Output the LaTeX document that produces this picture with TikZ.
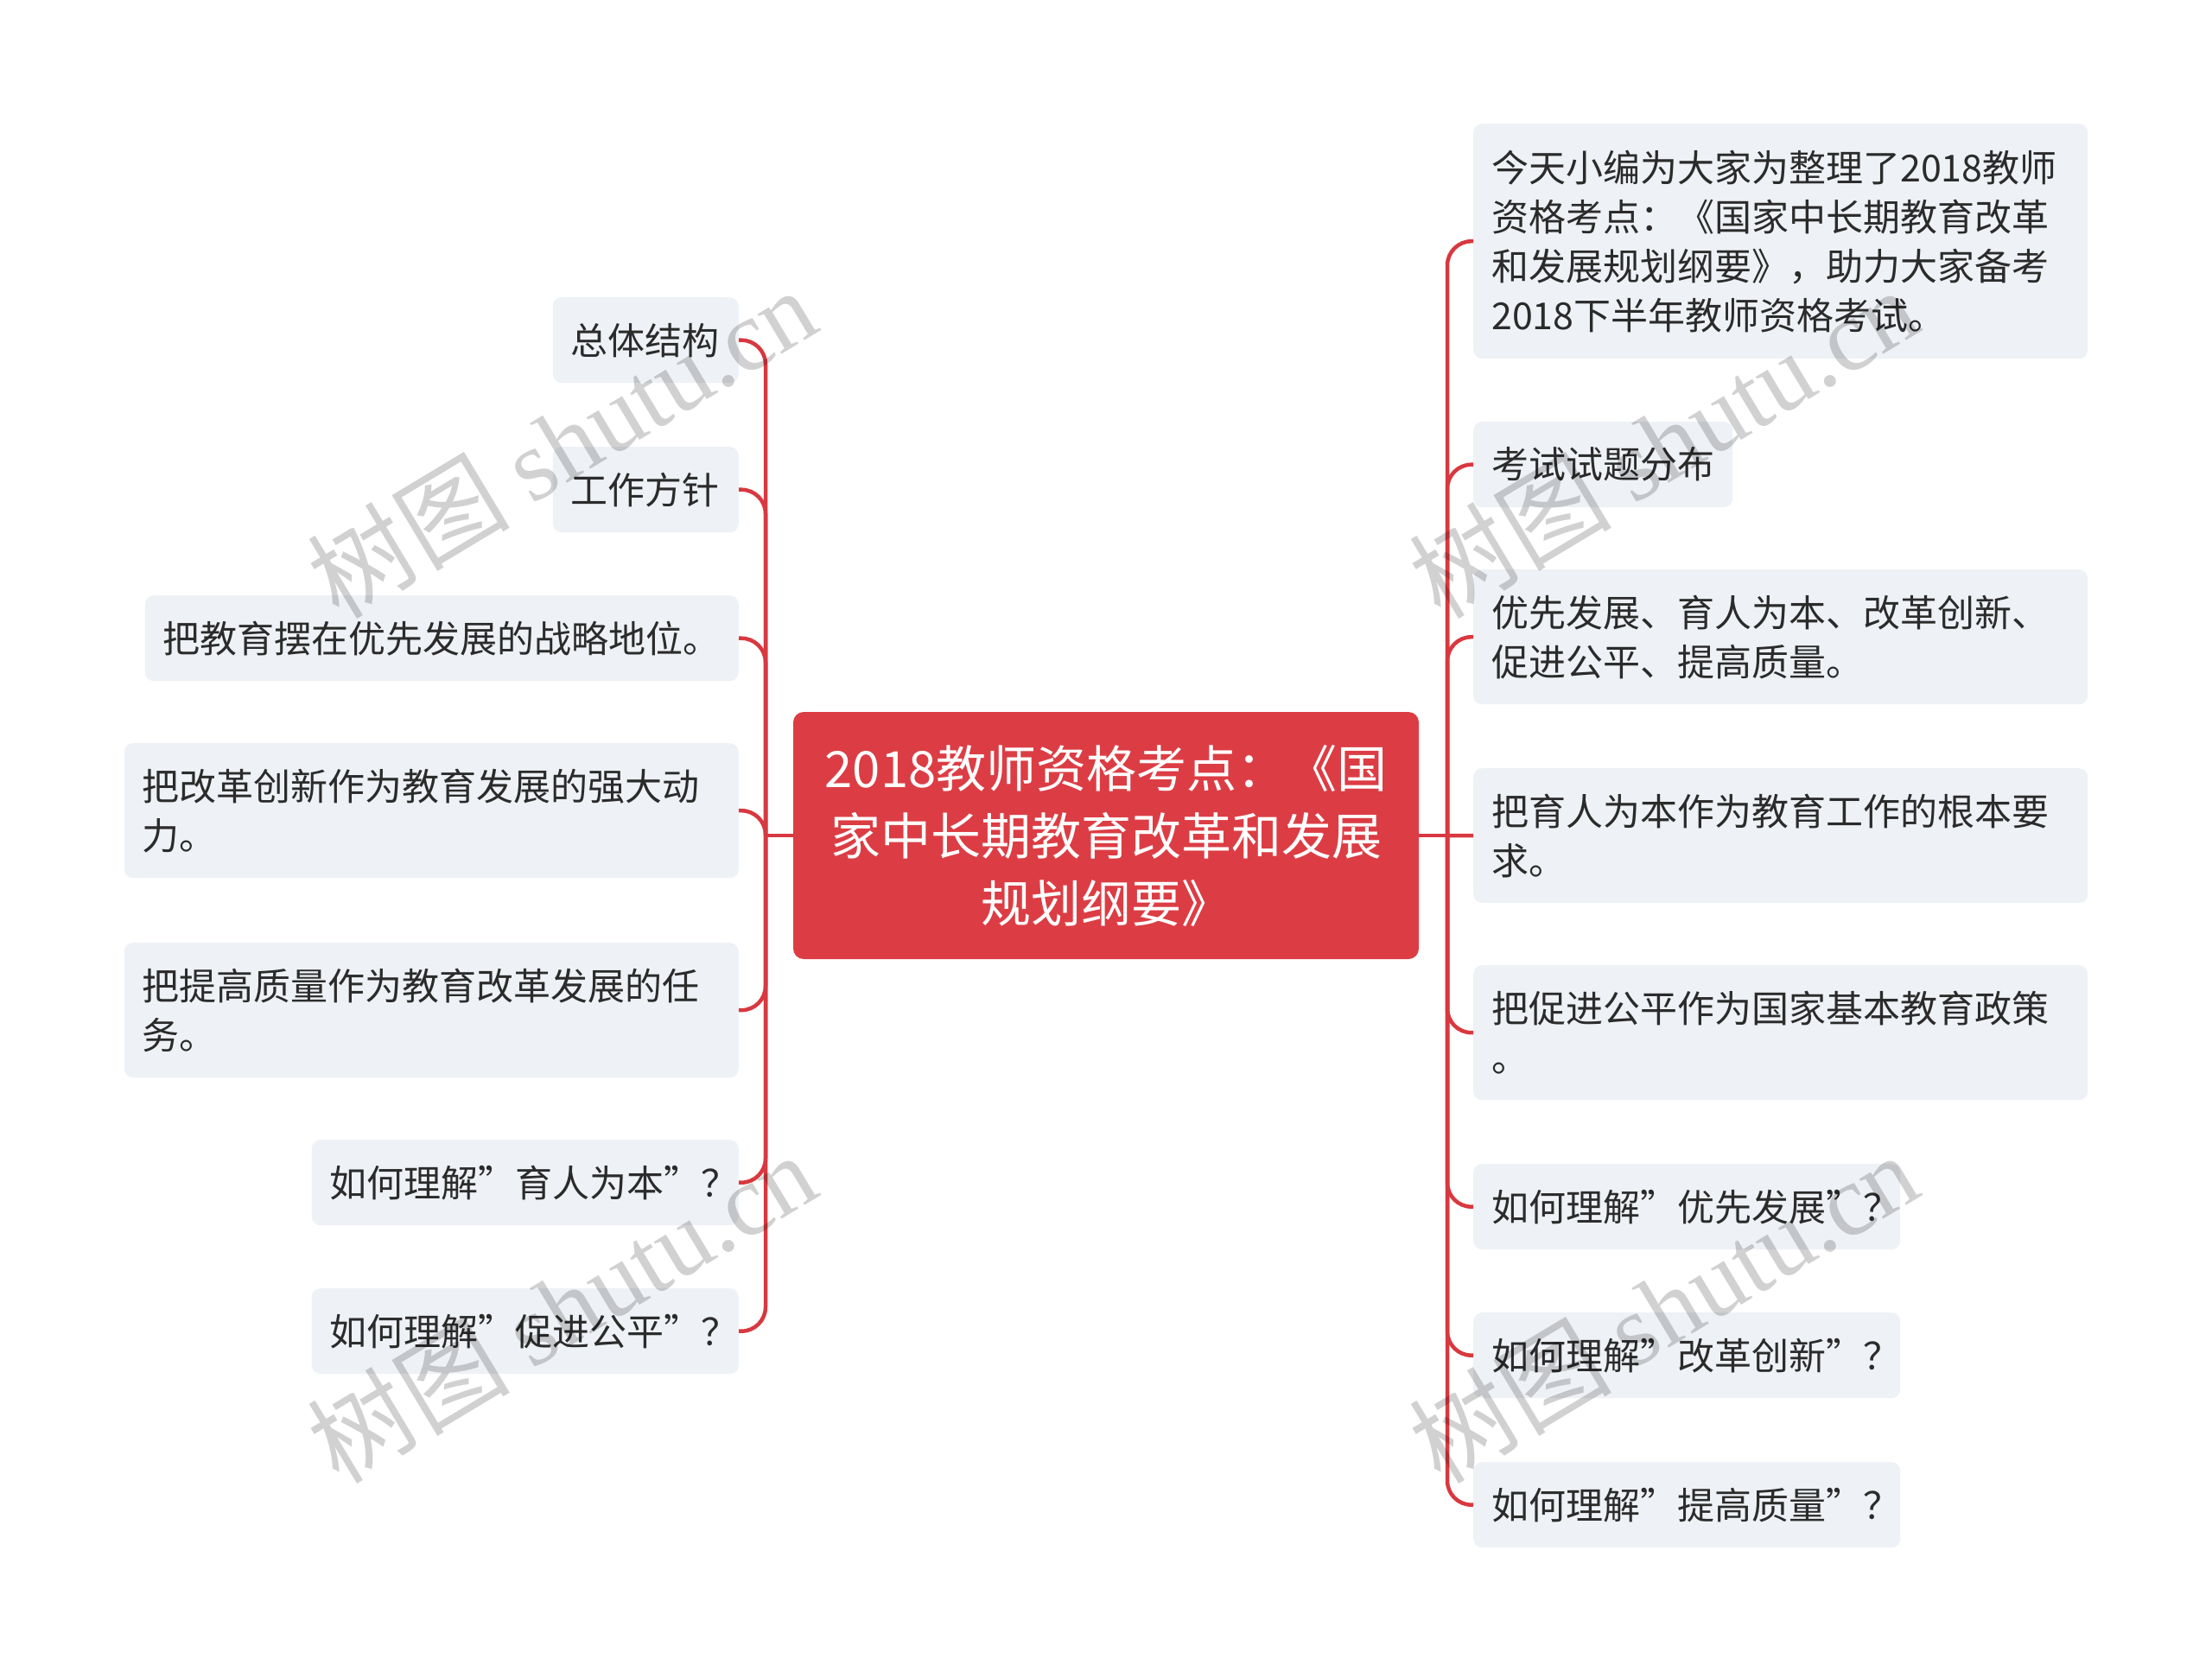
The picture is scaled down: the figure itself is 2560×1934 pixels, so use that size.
\documentclass[tikz,border=0pt]{standalone}
\usepackage{fontspec}
\setmainfont{Noto Sans CJK SC}
\newfontfamily\wmcjk{Noto Sans CJK SC}
\newfontfamily\wmlat{Liberation Serif}
\definecolor{rootred}{HTML}{DC3D44}
\definecolor{linered}{HTML}{D8383F}
\definecolor{leafgray}{HTML}{EEF1F5}
\definecolor{textdark}{HTML}{2B2B2B}
\tikzset{
  leaf/.style={fill=leafgray, rounded corners=10pt, inner xsep=21pt, inner ysep=0pt,
    font=\fontsize{43}{57}\selectfont, text=textdark, align=left},
  root/.style={fill=rootred, rounded corners=12pt, inner xsep=12pt, inner ysep=0pt,
    font=\fontsize{58}{78}\selectfont, text=white, align=center, text width=700pt,
    minimum width=724pt, minimum height=286pt},
  conn/.style={draw=linered, line width=4.5pt},
  branch/.style={conn, rounded corners=28pt},
  wm/.style={text=black, opacity=0.18, font=\fontsize{117}{125}\selectfont, inner sep=0pt}
}
\begin{document}
\begin{tikzpicture}[x=1pt,y=-1pt]
\useasboundingbox (0,0) rectangle (2560,1934);

% central
\node[root] (c) at (1280,967) {2018教师资格考点：《国\\家中长期教育改革和发展\\规划纲要》};

\coordinate (tl) at (886,967);
\coordinate (tr) at (1675,967);

% left nodes
\node[leaf, anchor=north east, text width=173pt, minimum height=99pt] (L1) at (855,344) {\mbox{总体结构}};
\node[leaf, anchor=north east, text width=173pt, minimum height=99pt] (L2) at (855,517) {\mbox{工作方针}};
\node[leaf, anchor=north east, text width=645pt, minimum height=99pt] (L3) at (855,689) {\mbox{把教育摆在优先发展的战略地位。}};
\node[leaf, anchor=north east, text width=669pt, minimum height=156pt] (L4) at (855,860) {\mbox{把改革创新作为教育发展的强大动}\\\mbox{力。}};
\node[leaf, anchor=north east, text width=669pt, minimum height=156pt] (L5) at (855,1091) {\mbox{把提高质量作为教育改革发展的任}\\\mbox{务。}};
\node[leaf, anchor=north east, text width=452pt, minimum height=99pt] (L6) at (855,1319) {\mbox{如何理解”育人为本”？}};
\node[leaf, anchor=north east, text width=452pt, minimum height=99pt] (L7) at (855,1491) {\mbox{如何理解”促进公平”？}};

% right nodes
\node[leaf, anchor=north west, text width=669pt, minimum height=272pt] (R1) at (1705,143) {\mbox{今天小编为大家为整理了2018教师}\\\mbox{资格考点：《国家中长期教育改革}\\\mbox{和发展规划纲要》，助力大家备考}\\\mbox{2018下半年教师资格考试。}};
\node[leaf, anchor=north west, text width=258pt, minimum height=99pt] (R2) at (1705,488) {\mbox{考试试题分布}};
\node[leaf, anchor=north west, text width=669pt, minimum height=156pt] (R3) at (1705,659) {\mbox{优先发展、育人为本、改革创新、}\\\mbox{促进公平、提高质量。}};
\node[leaf, anchor=north west, text width=669pt, minimum height=156pt] (R4) at (1705,889) {\mbox{把育人为本作为教育工作的根本要}\\\mbox{求。}};
\node[leaf, anchor=north west, text width=669pt, minimum height=156pt] (R5) at (1705,1117) {\mbox{把促进公平作为国家基本教育政策}\\\mbox{。}};
\node[leaf, anchor=north west, text width=452pt, minimum height=99pt] (R6) at (1705,1347) {\mbox{如何理解”优先发展”？}};
\node[leaf, anchor=north west, text width=452pt, minimum height=99pt] (R7) at (1705,1519) {\mbox{如何理解”改革创新”？}};
\node[leaf, anchor=north west, text width=452pt, minimum height=99pt] (R8) at (1705,1692) {\mbox{如何理解”提高质量”？}};

% connectors
\draw[conn] (c.west) -- (tl);
\draw[conn] (c.east) -- (tr);
\foreach \n in {L1,L2,L3,L4,L5,L6,L7} {\draw[branch] (tl) |- (\n.east);}
\foreach \n in {R1,R2,R3,R5,R6,R7,R8} {\draw[branch] (tr) |- (\n.west);}
\draw[conn] (tr) -- (R4.west);

% watermarks
\node[wm, rotate=31] (wm1) at (650,512) {{\wmcjk 树图} {\wmlat shutu.cn}};
\node[wm, rotate=31] (wm2) at (650,1513) {{\wmcjk 树图} {\wmlat shutu.cn}};
\node[wm, rotate=31] (wm3) at (1925,512) {{\wmcjk 树图} {\wmlat shutu.cn}};
\node[wm, rotate=31] (wm4) at (1925,1513) {{\wmcjk 树图} {\wmlat shutu.cn}};
\end{tikzpicture}
\end{document}
